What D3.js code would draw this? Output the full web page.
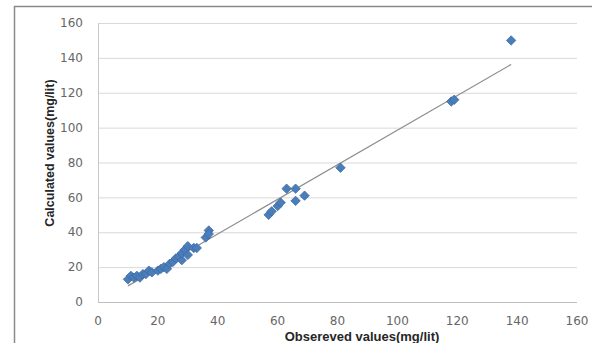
<!DOCTYPE html>
<html><head><meta charset="utf-8">
<script src="https://cdn.jsdelivr.net/npm/d3@7"></script>
<style>body{margin:0;background:#fff;}svg{display:block;}</style>
</head><body>
<svg id="c" width="592" height="343"></svg>
<script>
const observed   = [10,11,12,13,14,15,16,17,18,20,21,22,23,24,25,26,27,28,28,29,30,30,32,33,36,37,37,57,58,60,61,63,66,66,69,81,118,119,138];
const calculated = [13,15,14,15,14,16,16,18,17,18,19,20,19,22,23,25,26,24,28,30,27,32,31,31,37,41,39,50,52,55,57,65,65,58,61,77,115,116,150];
const xTicks = [0,20,40,60,80,100,120,140,160];
const yTicks = [0,20,40,60,80,100,120,140,160];
const xTitle = "Obsereved values(mg/lit)";
const yTitle = "Calculated values(mg/lit)";

const svg = d3.select("#c");
const x = d3.scaleLinear().domain([0,160]).range([98,577]);
const y = d3.scaleLinear().domain([0,160]).range([302,23]);

// outer frame
svg.append("path").attr("d","M14.5,343 L14.5,6.5 L592,6.5").attr("fill","none").attr("stroke","#8a8a8a").attr("stroke-width",1.5);

// gridlines
svg.append("g").selectAll("line").data(yTicks).join("line")
  .attr("x1",x(0)).attr("x2",x(160)).attr("y1",d=>y(d)+0.5).attr("y2",d=>y(d)+0.5)
  .attr("stroke",d=>d===0?"#bfbfbf":"#d9d9d9").attr("stroke-width",1);
svg.append("line").attr("x1",x(0)+0.5).attr("x2",x(0)+0.5).attr("y1",y(160)).attr("y2",y(0))
  .attr("stroke","#c8c8c8");

// tick labels
svg.append("g").selectAll("text").data(yTicks).join("text")
  .attr("x",83).attr("y",d=>y(d)).attr("dy","0.35em").attr("text-anchor","end")
  .attr("font-family","DejaVu Sans, sans-serif").attr("font-size",12).attr("fill","#666")
  .text(d=>d);
svg.append("g").selectAll("text").data(xTicks).join("text")
  .attr("x",d=>x(d)).attr("y",321).attr("dy","0.35em").attr("text-anchor","middle")
  .attr("font-family","DejaVu Sans, sans-serif").attr("font-size",12).attr("fill","#666")
  .text(d=>d);

// trend line (least squares)
const pts = observed.map((v,i)=>({x:v,y:calculated[i]}));
const mx = d3.mean(pts,d=>d.x), my = d3.mean(pts,d=>d.y);
const slope = d3.sum(pts,d=>(d.x-mx)*(d.y-my))/d3.sum(pts,d=>(d.x-mx)*(d.x-mx));
const icpt = my - slope*mx;
const [x0,x1] = d3.extent(observed);
svg.append("line").attr("x1",x(x0)).attr("y1",y(icpt+slope*x0)).attr("x2",x(x1)).attr("y2",y(icpt+slope*x1))
  .attr("stroke","#8c8c8c").attr("stroke-width",1.2);

// points
svg.append("g").selectAll("path").data(pts).join("path")
  .attr("transform",d=>`translate(${x(d.x)},${y(d.y)})`)
  .attr("d",d3.symbol(d3.symbolDiamond2,56)())
  .attr("fill","#4a7ebb").attr("stroke","#3d6aa3").attr("stroke-width",0.8);

// titles
svg.append("text").attr("x",362).attr("y",341).attr("text-anchor","middle")
  .attr("font-family","Liberation Sans, Arial, sans-serif").attr("font-size",13).attr("font-weight","bold").attr("fill","#262626")
  .text(xTitle);
svg.append("text").attr("transform","translate(54,153) rotate(-90)").attr("text-anchor","middle")
  .attr("font-family","Liberation Sans, Arial, sans-serif").attr("font-size",12.5).attr("font-weight","bold").attr("fill","#262626")
  .text(yTitle);
</script>
</body></html>
